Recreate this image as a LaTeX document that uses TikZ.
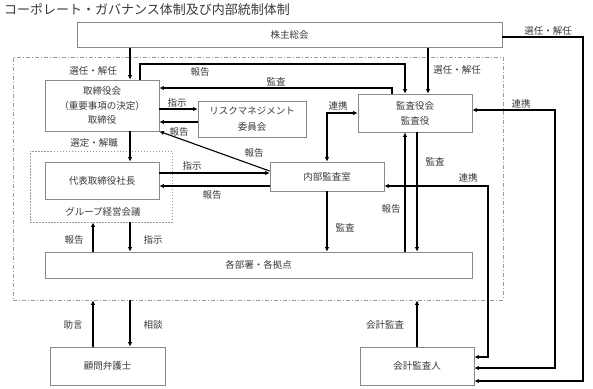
\documentclass[tikz,border=0pt]{standalone}
\usepackage{fontspec}
\setmainfont{Noto Sans CJK JP}
\usetikzlibrary{arrows.meta,calc}
\definecolor{boxgray}{HTML}{8A8A8A}
\definecolor{txt}{HTML}{3A3A3A}
\definecolor{zonegray}{HTML}{9A9A9A}
\begin{document}
\begin{tikzpicture}[x=1pt,y=-1pt,
  box/.style={draw=boxgray,line width=0.8pt,fill=white,inner sep=0pt,align=center,
    font=\fontsize{9.5}{14.5}\selectfont,text=txt},
  lbl/.style={font=\fontsize{9.5}{11}\selectfont,text=txt,inner sep=0pt},
  conn/.style={line width=1.1pt,draw=black},
  arr/.style={conn,-{Latex[length=4.5pt,width=4.5pt]}},
  darr/.style={conn,{Latex[length=4.5pt,width=4.5pt]}-{Latex[length=4.5pt,width=4.5pt]}},
  zonestyle/.style={draw=zonegray,line width=0.7pt,dash pattern=on 4pt off 2pt on 1pt off 2pt,inner sep=0pt},
  grpstyle/.style={draw=zonegray,line width=0.8pt,dash pattern=on 1.5pt off 1.5pt,inner sep=0pt}
]
\useasboundingbox[fill=white] (0,0) rectangle (593,388);

\node[anchor=west,font=\fontsize{13}{14}\selectfont,text=txt,inner sep=0pt] (title) at (4,10)
  {コーポレート・ガバナンス体制及び内部統制体制};

% zones
\node[zonestyle,minimum width=490pt,minimum height=243pt] (zone) at (258,178.5) {};
\node[grpstyle,minimum width=142pt,minimum height=71pt] (grp) at (101,186.5) {};

% boxes
\node[box,minimum width=425pt,minimum height=25pt] (sh) at (289.5,35) {株主総会};
\node[box,minimum width=114pt,minimum height=51pt] (bd) at (102,105.5) {取締役会\\（重要事項の決定）\\取締役};
\node[box,minimum width=108pt,minimum height=36pt,font=\fontsize{9.5}{16}\selectfont] (risk) at (252,119) {リスクマネジメント\\委員会};
\node[box,minimum width=114pt,minimum height=38pt,font=\fontsize{9.5}{15}\selectfont] (ab) at (415,113) {監査役会\\監査役};
\node[box,minimum width=114pt,minimum height=37pt] (rep) at (102,180.5) {代表取締役社長};
\node[box,minimum width=114pt,minimum height=29pt] (ia) at (327,176.5) {内部監査室};
\node[box,minimum width=427pt,minimum height=26pt] (dep) at (258.5,265) {各部署・各拠点};
\node[box,minimum width=115pt,minimum height=38pt] (law) at (107.5,366) {顧問弁護士};
\node[box,minimum width=114pt,minimum height=38pt] (acc) at (417,366) {会計監査人};

\node[lbl] (grplbl) at (103,212) {グループ経営会議};

% connectors
\draw[arr] (sh.south -| 130,0) -- (bd.north -| 130,0);
\draw[arr] (sh.south -| 428,0) -- (ab.north -| 428,0);
\draw[arr] (sh.east |- 0,37) -- (583,37) -- (583,381) -- (acc.east |- 0,381);
\draw[arr] (bd.north -| 140,0) -- (140,64) -- (405,64) -- (ab.north -| 405,0);
\draw[arr] (ab.north -| 392,0) -- (392,88) -- (bd.east |- 0,88);
\draw[arr] (bd.east |- 0,109) -- (risk.west |- 0,109);
\draw[arr] (risk.west |- 0,122) -- (bd.east |- 0,122);
\draw[darr] (ia.north) |- (ab.west |- 0,113);
\draw[arr] (ia.west |- 0,171) -- (bd.south east);
\draw[arr] (rep.east |- 0,173) -- (ia.west |- 0,173);
\draw[arr] (ia.west |- 0,186) -- (rep.east |- 0,186);
\draw[arr] (bd.south -| 130,0) -- (rep.north -| 130,0);
\draw[arr] (grp.south -| 130,0) -- (dep.north -| 130,0);
\draw[arr] (dep.north -| 93,0) -- (grp.south -| 93,0);
\draw[arr] (ia.south) -- (dep.north -| ia.south);
\draw[arr] (dep.north -| 405,0) -- (ab.south -| 405,0);
\draw[arr] (ab.south -| 417,0) -- (dep.north -| 417,0);
\draw[darr] (ia.east |- 0,186) -| (488,357) -- (acc.east |- 0,357);
\draw[darr] (ab.east |- 0,110) -| (555,368) -- (acc.east |- 0,368);
\draw[arr] (acc.north) -- (zone.south -| acc.north);
\draw[arr] (law.north -| 93,0) -- (zone.south -| 93,0);
\draw[arr] (zone.south -| 130,0) -- (law.north -| 130,0);

% labels
\node[lbl] (l1) at (93,71) {選任・解任};
\node[lbl] (l2) at (457,70) {選任・解任};
\node[lbl] (l3) at (548,31) {選任・解任};
\node[lbl] (l4) at (200,72) {報告};
\node[lbl] (l5) at (276,82) {監査};
\node[lbl] (l6) at (177,103) {指示};
\node[lbl] (l7) at (179,132) {報告};
\node[lbl] (l8) at (338,106) {連携};
\node[lbl] (l9) at (254,153) {報告};
\node[lbl] (l10) at (192,166) {指示};
\node[lbl] (l11) at (212,195) {報告};
\node[lbl] (l12) at (94,143) {選定・解職};
\node[lbl] (l13) at (74,240) {報告};
\node[lbl] (l14) at (153,240) {指示};
\node[lbl] (l15) at (345,228) {監査};
\node[lbl] (l16) at (391,209) {報告};
\node[lbl] (l17) at (435,162) {監査};
\node[lbl] (l18) at (468,178) {連携};
\node[lbl] (l19) at (521,104) {連携};
\node[lbl] (l20) at (73,325) {助言};
\node[lbl] (l21) at (153,325) {相談};
\node[lbl] (l22) at (385,325) {会計監査};
\end{tikzpicture}
\end{document}
